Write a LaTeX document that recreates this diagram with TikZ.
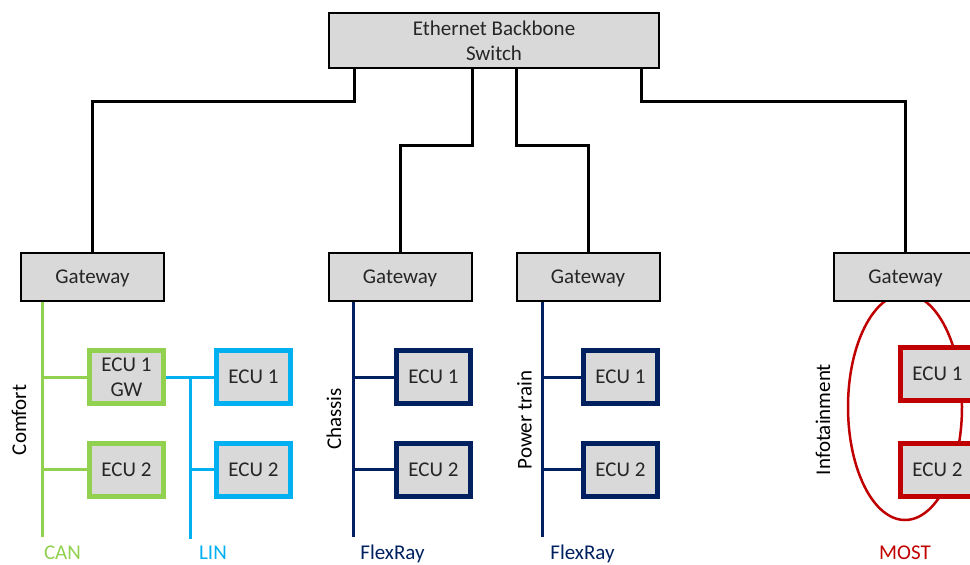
\documentclass[tikz,border=0pt]{standalone}
\usepackage{fontspec}
\setmainfont{Carlito}
\usetikzlibrary{backgrounds}
\definecolor{cangreen}{HTML}{92D050}
\definecolor{linblue}{HTML}{00B0F0}
\definecolor{frnavy}{HTML}{002060}
\definecolor{mostred}{HTML}{C00000}
\definecolor{boxgray}{HTML}{D9D9D9}
\definecolor{inkgray}{HTML}{262626}

\begin{document}
\begin{tikzpicture}[x=1pt,y=-1pt,
  font=\fontsize{21}{25}\selectfont,
  unit/.style={draw=black, line width=2pt, fill=boxgray, inner sep=0pt,
    minimum width=143pt, minimum height=48pt, text=inkgray, align=center},
  ecu/.style={draw=#1, line width=5pt, fill=boxgray, inner sep=0pt,
    minimum width=74pt, minimum height=53pt, text=inkgray, align=center},
  bus/.style={draw=#1, line width=3pt},
  link/.style={draw=black, line width=3pt},
  domainlbl/.style={rotate=90, anchor=base, text=black},
  buslabel/.style={text=#1, anchor=base, inner sep=0pt}]
\useasboundingbox (0,0) rectangle (970,565);

% backbone switch and domain gateways
\node[unit, minimum width=330pt, minimum height=55pt] (sw) at (494,40.5)
  {Ethernet Backbone\\Switch};
\node[unit, text depth=0pt] (gw1) at (92.5,277) {Gateway};
\node[unit, text depth=0pt] (gw2) at (400,277) {Gateway};
\node[unit, text depth=0pt] (gw3) at (588,277) {Gateway};
\node[unit, text depth=0pt] (gw4) at (905.5,277) {Gateway};

% comfort domain: CAN with a LIN sub-bus
\node[ecu=cangreen] (can1) at (126.5,377) {ECU 1\\GW};
\node[ecu=cangreen] (can2) at (126.5,469.5) {ECU 2};
\node[ecu=linblue] (lin1) at (253.5,377) {ECU 1};
\node[ecu=linblue] (lin2) at (253.5,469.5) {ECU 2};

% chassis domain
\node[ecu=frnavy] (ch1) at (433.5,377) {ECU 1};
\node[ecu=frnavy] (ch2) at (433.5,469.5) {ECU 2};

% power train domain
\node[ecu=frnavy] (pt1) at (620.5,377) {ECU 1};
\node[ecu=frnavy] (pt2) at (620.5,469.5) {ECU 2};

% infotainment domain
\node[ecu=mostred] (if1) at (937.5,373.5) {ECU 1};
\node[ecu=mostred] (if2) at (937.5,469.5) {ECU 2};

% bus end points
\coordinate (cantop) at ([xshift=22pt]gw1.south west);
\coordinate (canend) at ([xshift=22pt]gw1.south west |- 0,537);
\coordinate (lintop) at (190,375.5);
\coordinate (linend) at (190,539);
\coordinate (chtop) at ([xshift=333pt]gw1.south west);
\coordinate (chend) at ([xshift=333pt]gw1.south west |- 0,537);
\coordinate (pttop) at ([xshift=522pt]gw1.south west);
\coordinate (ptend) at ([xshift=522pt]gw1.south west |- 0,537);

\begin{pgfonlayer}{background}
  % backbone links
  \draw[link] ([xshift=26pt]sw.south west) -- ++(0,32.5) -| (gw1.north);
  \draw[link] ([xshift=144pt]sw.south west) -- ++(0,76) -| (gw2.north);
  \draw[link] ([xshift=188pt]sw.south west) -- ++(0,76) -| (gw3.north);
  \draw[link] ([xshift=313pt]sw.south west) -- ++(0,32.5) -| (gw4.north);

  % CAN
  \draw[bus=cangreen] (cantop) -- (canend);
  \draw[bus=cangreen] (can1.west -| cantop) -- (can1.west);
  \draw[bus=cangreen] (can2.west -| cantop) -- (can2.west);

  % LIN
  \draw[bus=linblue] (can1.east) -- (lin1.west);
  \draw[bus=linblue] (lintop) -- (linend);
  \draw[bus=linblue] (lin2.west -| lintop) -- (lin2.west);

  % FlexRay, chassis
  \draw[bus=frnavy] (chtop) -- (chend);
  \draw[bus=frnavy] (ch1.west -| chtop) -- (ch1.west);
  \draw[bus=frnavy] (ch2.west -| chtop) -- (ch2.west);

  % FlexRay, power train
  \draw[bus=frnavy] (pttop) -- (ptend);
  \draw[bus=frnavy] (pt1.west -| pttop) -- (pt1.west);
  \draw[bus=frnavy] (pt2.west -| pttop) -- (pt2.west);

  % MOST ring
  \draw[draw=mostred, line width=2.5pt] (905,407) ellipse [x radius=57, y radius=113];
\end{pgfonlayer}

% domain names
\node[domainlbl] (comfort) at (26,420) {Comfort};
\node[domainlbl] (chassis) at (341,419) {Chassis};
\node[domainlbl] (powertrain) at (531.5,420) {Power train};
\node[domainlbl] (infotain) at (830,419.5) {Infotainment};

% bus names
\node[buslabel=cangreen] (canlbl) at (62.5,559.5) {CAN};
\node[buslabel=linblue] (linlbl) at (213,559.5) {LIN};
\node[buslabel=frnavy] (fr1lbl) at (392.5,559.5) {FlexRay};
\node[buslabel=frnavy] (fr2lbl) at (582.5,559.5) {FlexRay};
\node[buslabel=mostred] (mostlbl) at (905,559.5) {MOST};
\end{tikzpicture}
\end{document}
